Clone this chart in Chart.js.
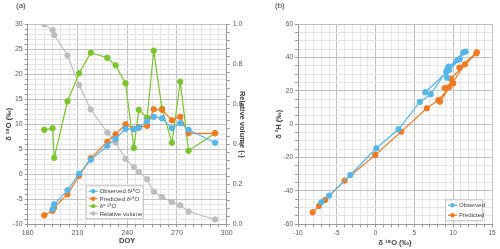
<!DOCTYPE html>
<html>
<head>
<meta charset="utf-8">
<script src="https://cdn.jsdelivr.net/npm/chart.js@4.4.0/dist/chart.umd.min.js"></script>
<style>
  html, body { margin: 0; padding: 0; background: #fff; }
  #wrap { position: relative; width: 500px; height: 249px; overflow: hidden; font-family: "Liberation Sans", Arial, sans-serif; }
  .panel { position: absolute; top: 0; width: 250px; height: 249px; }
  .tag { position: absolute; top: 1px; font-size: 8px; color: #333; }
</style>
</head>
<body>
<div id="wrap">
  <div class="panel" style="left:0"><canvas id="chartA"></canvas></div>
  <div class="panel" style="left:250px"><canvas id="chartB"></canvas></div>
  <div class="tag" style="left:16px">(a)</div>
  <div class="tag" style="left:275px">(b)</div>
</div>
<script>
// panel (a): day of year and values
const doy = [190, 195, 196, 204, 211, 218, 228, 233, 239, 244, 247, 252, 256, 261, 267, 272, 277, 293];
const observedD18O = [null, -7.0, -6.0, -3.2, 0.1, 2.9, 5.7, 7.1, 9.1, 9.0, 9.3, 10.6, 11.5, 11.2, 9.2, 10.2, 8.9, 6.3];
const predictedD18O = [-8.2, -7.3, -6.6, -4.0, -0.3, 3.2, 6.5, 8.0, 10.0, 9.1, 9.4, 9.7, 13.0, 12.9, 10.8, 11.5, 8.2, 8.2];
const starD18O = [8.9, 9.2, 3.3, 14.6, 20.2, 24.3, 23.3, 21.8, 18.2, 5.3, 12.9, 11.3, 24.7, 13.1, 6.3, 18.5, 4.7, 8.2];
const relativeVolume = [1.0, 0.971, 0.946, 0.844, 0.697, 0.574, 0.459, 0.409, 0.327, 0.286, 0.262, 0.225, 0.164, 0.136, 0.111, 0.095, 0.064, 0.024];

// panel (b): d18O vs d2H
const obsB18O = [-7.0, -6.0, -3.25, 0.1, 2.95, 5.7, 7.1, 9.1, 9.2, 9.4, 10.55, 11.6, 11.3, 9.3, 10.85, 9.5, 6.4];
const obsB2H = [-46.8, -42.8, -30.4, -14.4, -3.0, 13.4, 18.0, 31.6, 28.0, 34.6, 38.6, 43.6, 43.2, 33.6, 39.0, 32.6, 19.2];
const predB18O = [-8.1, -7.3, -6.5, -4.0, -0.05, 3.3, 6.6, 8.1, 10.0, 8.9, 9.5, 9.7, 13.0, 13.05, 10.8, 11.5, 8.3, 8.2];
const predB2H = [-52.8, -49.0, -45.4, -33.8, -18.4, -4.4, 9.6, 14.6, 24.6, 21.8, 22.4, 27.4, 42.6, 43.2, 34.0, 36.0, 13.6, 14.2];

const BLUE = "#55b6e8";
const ORANGE = "#f07a22";
const GREEN = "#7cc42b";
const GRAY = "#bdbdbd";
const MAJOR = "#c2c2c2";
const MINOR = "#e6e6e6";
const TEXT = "#595959";
const FONT = "'Liberation Sans', Arial, sans-serif";

function toPoints(xs, ys) {
  const pts = [];
  xs.forEach(function (x, i) {
    if (ys[i] !== null) pts.push({ x: x, y: ys[i] });
  });
  return pts;
}

function isMultiple(v, step) {
  return Math.abs(v / step - Math.round(v / step)) < 1e-6;
}

function series(label, data, color, axis) {
  return {
    label: label,
    data: data,
    borderColor: color,
    backgroundColor: color,
    borderWidth: 1.2,
    pointRadius: 2.7,
    pointBorderWidth: 1,
    showLine: true,
    yAxisID: axis || "y"
  };
}

function gridOpts(major) {
  return {
    color: function (c) { return isMultiple(c.tick.value, major) ? MAJOR : MINOR; },
    tickLength: 3,
    tickColor: "#9a9a9a"
  };
}

const legendBox = {
  id: "legendBox",
  afterDatasetsDraw(chart, args, o) {
    if (!o.w) return;
    const ctx = chart.ctx;
    const a = chart.chartArea;
    const x = a.left + o.dx;
    const y = a.bottom - o.dy - o.h;
    ctx.save();
    ctx.fillStyle = "#fff";
    ctx.strokeStyle = "#bfbfbf";
    ctx.lineWidth = 1;
    ctx.fillRect(x, y, o.w, o.h);
    ctx.strokeRect(x + 0.5, y + 0.5, o.w, o.h);
    chart.data.datasets.forEach(function (ds, i) {
      const ry = y + o.first + i * o.gap;
      ctx.strokeStyle = ds.borderColor;
      ctx.lineWidth = 1.2;
      ctx.beginPath();
      ctx.moveTo(x + 3, ry);
      ctx.lineTo(x + 12, ry);
      ctx.stroke();
      ctx.fillStyle = ds.borderColor;
      ctx.beginPath();
      ctx.arc(x + 7.5, ry, 2.2, 0, Math.PI * 2);
      ctx.fill();
      ctx.fillStyle = "#404040";
      ctx.font = "6px " + FONT;
      ctx.textBaseline = "middle";
      ctx.fillText(ds.label, x + 14, ry + 0.5);
    });
    ctx.restore();
  }
};

const tickFont = { family: FONT, size: 7 };
const titleFont = { family: FONT, size: 7.5, weight: "bold" };

new Chart(document.getElementById("chartA"), {
  type: "scatter",
  data: {
    datasets: [
      series("Observed δ¹⁸O", toPoints(doy, observedD18O), BLUE),
      series("Predicted δ¹⁸O", toPoints(doy, predictedD18O), ORANGE),
      series("δ* ¹⁸O", toPoints(doy, starD18O), GREEN),
      series("Relative volume", toPoints(doy, relativeVolume), GRAY, "y1")
    ]
  },
  options: {
    responsive: true,
    maintainAspectRatio: false,
    animation: false,
    layout: { padding: { top: 24.3, left: 0, right: 0, bottom: 0 } },
    plugins: {
      legend: { display: false },
      tooltip: { enabled: false },
      legendBox: { dx: 58, dy: 6, w: 57, h: 33, first: 6, gap: 7.4 }
    },
    scales: {
      x: {
        type: "linear", min: 180, max: 300,
        ticks: { stepSize: 5, autoSkip: false, maxRotation: 0, padding: 2, color: TEXT, font: tickFont,
          callback: function (v) { return isMultiple(v, 30) ? v : ""; } },
        grid: gridOpts(30),
        border: { color: "#9a9a9a" },
        title: { display: true, text: "DOY", color: "#404040", font: titleFont, padding: { top: 0, bottom: 4 } },
        afterFit: function (s) { s.height = 24.7; }
      },
      y: {
        position: "left", min: -10, max: 30,
        ticks: { stepSize: 1, autoSkip: false, padding: 2, color: TEXT, font: tickFont,
          callback: function (v) { return isMultiple(v, 5) ? v : ""; } },
        grid: gridOpts(5),
        border: { color: "#9a9a9a" },
        title: { display: true, text: "δ ¹⁸O (‰)", color: "#404040", font: titleFont, padding: { top: 4, bottom: 0 } },
        afterFit: function (s) { s.width = 27.7; }
      },
      y1: {
        position: "right", min: 0, max: 1,
        ticks: { stepSize: 0.04, autoSkip: false, padding: 3, color: TEXT, font: tickFont,
          callback: function (v) { return isMultiple(v, 0.2) ? v.toFixed(1) : ""; } },
        grid: { drawOnChartArea: false, tickLength: 3, tickColor: "#9a9a9a" },
        border: { color: "#9a9a9a" },
        title: { display: true, text: "Relative volume (-)", color: "#404040", font: titleFont, padding: { top: 3, bottom: 0 } },
        afterFit: function (s) { s.width = 23.3; }
      }
    }
  },
  plugins: [legendBox]
});

const tickFontB = { family: FONT, size: 6.5 };

new Chart(document.getElementById("chartB"), {
  type: "scatter",
  data: {
    datasets: [
      series("Observed", toPoints(obsB18O, obsB2H), BLUE),
      series("Predicted", toPoints(predB18O, predB2H), ORANGE)
    ]
  },
  options: {
    responsive: true,
    maintainAspectRatio: false,
    animation: false,
    layout: { padding: { top: 24.3, left: 20, right: 8, bottom: 0 } },
    plugins: {
      legend: { display: false },
      tooltip: { enabled: false },
      legendBox: { dx: 147, dy: 4, w: 37, h: 21, first: 6, gap: 10 }
    },
    scales: {
      x: {
        type: "linear", min: -10, max: 15,
        ticks: { stepSize: 1, autoSkip: false, maxRotation: 0, padding: 2, color: TEXT, font: tickFontB,
          callback: function (v) { return isMultiple(v, 5) ? v : ""; } },
        grid: gridOpts(5),
        border: { color: "#9a9a9a" },
        title: { display: true, text: "δ ¹⁸O (‰)", color: "#404040", font: titleFont, padding: { top: 0, bottom: 2 } },
        afterFit: function (s) { s.height = 24.7; }
      },
      y: {
        position: "left", min: -60, max: 60,
        ticks: { stepSize: 5, autoSkip: false, padding: 2, color: TEXT, font: tickFontB,
          callback: function (v) { return isMultiple(v, 20) ? v : ""; } },
        grid: gridOpts(20),
        border: { color: "#9a9a9a" },
        title: { display: true, text: "δ ²H (‰)", color: "#404040", font: titleFont, padding: { top: 4, bottom: 0 } },
        afterFit: function (s) { s.width = 28; }
      }
    }
  },
  plugins: [legendBox]
});
</script>
</body>
</html>
